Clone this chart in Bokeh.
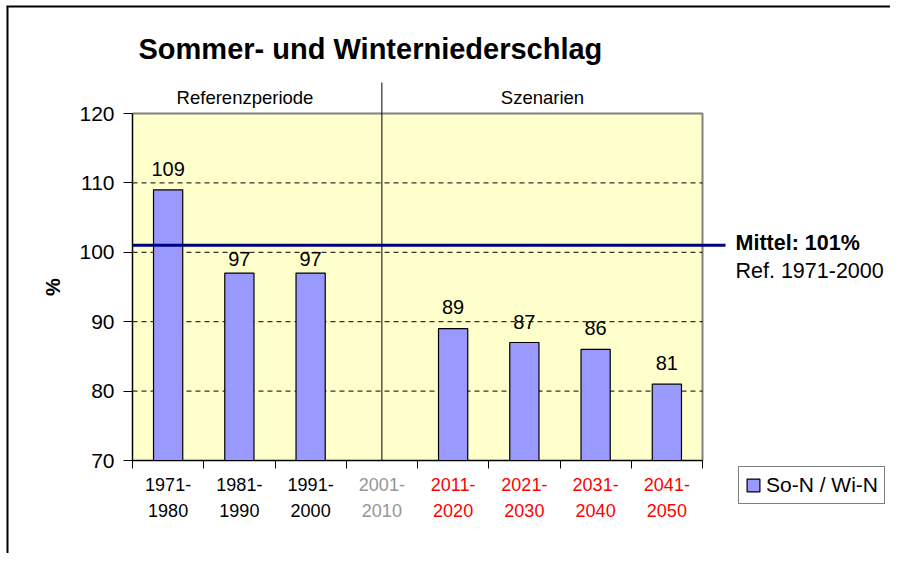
from bokeh.plotting import figure
from bokeh.models import (ColumnDataSource, LabelSet, Label, FixedTicker,
                          Range1d, Legend, LegendItem, LinearAxis, Grid)
from bokeh.core.properties import value
from bokeh.embed import file_html
from bokeh.resources import INLINE

# ---- data ----
categories = ["1971-\n1980", "1981-\n1990", "1991-\n2000", "2001-\n2010",
              "2011-\n2020", "2021-\n2030", "2031-\n2040", "2041-\n2050"]
values = [109, 97, 97, None, 89, 87, 86, 81]
label_colors = ["#000000", "#000000", "#000000", "#969696",
                "#FF0000", "#FF0000", "#FF0000", "#FF0000"]
y_ticks = [70, 80, 90, 100, 110, 120]
mean_value = 101
title_text = "Sommer- und Winterniederschlag"
series_name = "So-N / Wi-N"
period_labels = ["Referenzperiode", "Szenarien"]
mean_texts = ["Mittel: 101%", "Ref. 1971-2000"]

# style: vertical offset (px) of each value label above its bar
label_offsets = [14, 7, 7, 0, 15, 14, 14, 14]

FONT = "Liberation Sans"
BAR = "#9999FF"
N = len(categories)
YMIN, YMAX = y_ticks[0], y_ticks[-1]

# canvas size and pixel geometry of the plot area (layout constants)
W, H = 890, 553
FX0, FX1, FY0, FY1 = 132, 702, 113, 460
SX = (FX1 - FX0) / N              # px per category
SY = (FY1 - FY0) / (YMAX - YMIN)  # px per %


def dx(px):
    return (px - FX0) / SX


def dy(py):
    return YMIN + (FY1 - py) / SY


p = figure(width=W, height=H, output_backend="svg", toolbar_location=None,
           x_range=Range1d(dx(0), dx(W)), y_range=Range1d(dy(H), dy(0)),
           x_axis_location=None, y_axis_location=None,
           min_border=0, min_border_left=0, min_border_right=0,
           min_border_top=0, min_border_bottom=0)
p.center = [r for r in p.center if not isinstance(r, Grid)]
p.background_fill_color = "white"
p.border_fill_color = "white"
p.outline_line_color = None

# plot area background
p.quad(left=0, right=N, bottom=YMIN, top=YMAX, fill_color="#FFFFCC",
       line_color="#808080", line_width=2)

# dashed grid lines
gl = y_ticks[1:-1]
p.segment(x0=[0] * len(gl), x1=[N] * len(gl), y0=gl, y1=gl,
          line_color="black", line_width=1, line_dash="5 4")

# separator between reference period and scenarios
p.segment(x0=[3.5], x1=[3.5], y0=[YMIN], y1=[dy(82)], line_color="black", line_width=1)

# bars
idx = [i for i, v in enumerate(values) if v is not None]
src = ColumnDataSource(dict(x=[i + 0.5 for i in idx], top=[values[i] for i in idx],
                            lab=[str(values[i]) for i in idx],
                            off=[label_offsets[i] for i in idx]))
bars = p.vbar(x="x", top="top", bottom=YMIN, width=0.41, source=src,
              fill_color=BAR, line_color="black", line_width=1.2)

p.add_layout(LabelSet(x="x", y="top", text="lab", source=src, text_align="center",
                      text_baseline="alphabetic", y_offset="off",
                      text_font=value(FONT), text_font_size="20px", text_color="black"))

# mean line
p.segment(x0=[0], x1=[dx(725)], y0=[mean_value], y1=[mean_value],
          line_color="#000080", line_width=3)

# y axis
yax = LinearAxis(fixed_location=0, bounds=(YMIN, YMAX), ticker=FixedTicker(ticks=y_ticks))
yax.major_label_text_font = FONT
yax.major_label_text_font_size = "21px"
yax.major_label_text_color = "black"
yax.major_label_standoff = 9
yax.axis_line_color = "black"
yax.major_tick_line_color = "black"
yax.major_tick_out = 9
yax.major_tick_in = 0
yax.minor_tick_line_color = None
yax.axis_label = "%"
yax.axis_label_text_font = FONT
yax.axis_label_text_font_style = "bold"
yax.axis_label_text_font_size = "20px"
yax.axis_label_text_color = "black"
yax.axis_label_standoff = 12
p.add_layout(yax, "left")

# x axis: tick marks at category boundaries
xax = LinearAxis(fixed_location=YMIN, bounds=(0, N), ticker=FixedTicker(ticks=list(range(N + 1))))
xax.major_label_overrides = {i: "" for i in range(N + 1)}
xax.axis_line_color = "black"
xax.major_tick_line_color = "black"
xax.major_tick_out = 8
xax.major_tick_in = 0
xax.minor_tick_line_color = None
p.add_layout(xax, "below")

# x axes for category labels, one per label colour
for col in dict.fromkeys(label_colors):
    ids = [i for i, c in enumerate(label_colors) if c == col]
    ax = LinearAxis(fixed_location=YMIN, ticker=FixedTicker(ticks=[i + 0.5 for i in ids]))
    ax.major_label_overrides = {i + 0.5: categories[i] for i in ids}
    ax.axis_line_color = None
    ax.major_tick_line_color = None
    ax.minor_tick_line_color = None
    ax.major_tick_out = 0
    ax.major_tick_in = 0
    ax.major_label_standoff = 14
    ax.major_label_text_font = FONT
    ax.major_label_text_font_size = "18px"
    ax.major_label_text_color = col
    ax.major_label_text_line_height = 1.3
    p.add_layout(ax, "below")

# texts
p.add_layout(Label(x=dx(138), y=dy(48), text=title_text, text_font=FONT, text_color="black",
                   text_font_style="bold", text_font_size="29px", text_baseline="alphabetic"))
p.add_layout(Label(x=dx(244.5), y=dy(97), text=period_labels[0], text_font=FONT,
                   text_color="black", text_font_size="18.5px", text_align="center",
                   text_baseline="alphabetic"))
p.add_layout(Label(x=dx(542), y=dy(97), text=period_labels[1], text_font=FONT,
                   text_color="black", text_font_size="18.5px", text_align="center",
                   text_baseline="alphabetic"))
p.add_layout(Label(x=dx(735), y=dy(242), text=mean_texts[0], text_font=FONT, text_color="black",
                   text_font_style="bold", text_font_size="21.5px", text_baseline="alphabetic"))
p.add_layout(Label(x=dx(735), y=dy(270.5), text=mean_texts[1], text_font=FONT,
                   text_color="black", text_font_size="21.5px", text_baseline="alphabetic"))

# outer chart border (left and top)
p.segment(x0=[dx(7), dx(6)], x1=[dx(7), dx(W + 10)], y0=[dy(6), dy(6)], y1=[dy(H + 10), dy(6)],
          line_color="black", line_width=2)

# legend
legend = Legend(items=[LegendItem(label=series_name, renderers=[bars])],
                location=(738, H - 504), orientation="vertical")
legend.padding = 6
legend.margin = 0
legend.spacing = 0
legend.glyph_width = 16
legend.glyph_height = 16
legend.label_standoff = 5
legend.label_text_font = FONT
legend.label_text_font_size = "21px"
legend.label_text_color = "black"
legend.border_line_color = "black"
legend.border_line_width = 1
legend.background_fill_color = "white"
legend.background_fill_alpha = 1
p.add_layout(legend)

open("out.html", "w").write(file_html(p, INLINE))
